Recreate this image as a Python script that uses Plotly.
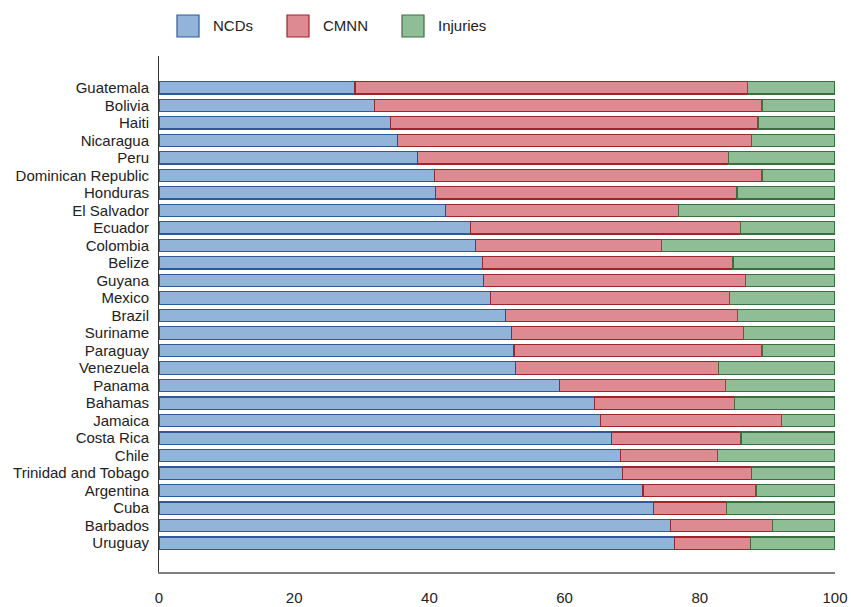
import plotly.graph_objects as go

countries = ["Guatemala", "Bolivia", "Haiti", "Nicaragua", "Peru", "Dominican Republic",
             "Honduras", "El Salvador", "Ecuador", "Colombia", "Belize", "Guyana", "Mexico",
             "Brazil", "Suriname", "Paraguay", "Venezuela", "Panama", "Bahamas", "Jamaica",
             "Costa Rica", "Chile", "Trinidad and Tobago", "Argentina", "Cuba", "Barbados",
             "Uruguay"]
ncds = [29.0, 31.9, 34.2, 35.3, 38.2, 40.8, 40.9, 42.4, 46.1, 46.8, 47.8, 48.0, 49.0,
        51.2, 52.2, 52.5, 52.7, 59.3, 64.4, 65.3, 66.9, 68.3, 68.6, 71.6, 73.2, 75.7, 76.2]
cmnn = [58.0, 57.3, 54.4, 52.3, 46.0, 48.4, 44.6, 34.4, 39.9, 27.5, 37.1, 38.8, 35.4,
        34.4, 34.3, 36.7, 30.1, 24.5, 20.7, 26.8, 19.2, 14.3, 19.0, 16.7, 10.7, 15.1, 11.3]
injuries = [round(100 - a - b, 1) for a, b in zip(ncds, cmnn)]
xticks = [0, 20, 40, 60, 80, 100]

series = [
    ("NCDs", ncds, "#92b4d8", "#2e5a9c"),
    ("CMNN", cmnn, "#dd8a93", "#a0252a"),
    ("Injuries", injuries, "#8fbe96", "#3a7040"),
]

fig = go.Figure()
for name, vals, fill, edge in series:
    fig.add_trace(go.Bar(
        y=countries, x=vals, name=name, orientation="h",
        marker=dict(color=fill, line=dict(color=edge, width=1.2)),
        showlegend=False,
    ))

# legend drawn by hand so the swatches are as big as in the original
legend_x = [177, 287, 402]
for (name, vals, fill, edge), lx in zip(series, legend_x):
    fig.add_shape(type="rect", xref="paper", yref="paper",
                  x0=(lx - 159) / 676, x1=(lx + 22 - 159) / 676,
                  y0=(572 - 37) / 516, y1=(572 - 15) / 516,
                  fillcolor=fill, line=dict(color=edge, width=1.2))
    fig.add_annotation(text=name, xref="paper", yref="paper",
                       x=(lx + 34 - 159) / 676, y=(572 - 26) / 516,
                       xanchor="left", yanchor="middle", showarrow=False,
                       font=dict(size=15, color="#222"))

fig.update_layout(
    barmode="stack",
    bargap=0.3,
    width=851, height=607,
    margin=dict(l=159, r=16, t=56, b=35),
    plot_bgcolor="white", paper_bgcolor="white",
    font=dict(family="Liberation Sans, Arial, sans-serif", size=15, color="#222"),
    xaxis=dict(range=[0, 100], tickvals=xticks, showgrid=False, zeroline=False,
               showline=True, linecolor="#7f7f7f", linewidth=2, automargin=False,
               ticks="outside", ticklen=0, ticklabelstandoff=11),
    yaxis=dict(range=[27.65, -1.82], showgrid=False, zeroline=False,
               tickmode="array", tickvals=countries, ticktext=countries,
               showline=True, linecolor="#333", linewidth=1, automargin=False,
               ticks="", ticklabelstandoff=6),
)

# page body has an 8px default margin; drop it so the figure sits at 0,0
fig.write_html("out.html", config={"displayModeBar": False},
               post_script="document.body.style.margin='0px';")
